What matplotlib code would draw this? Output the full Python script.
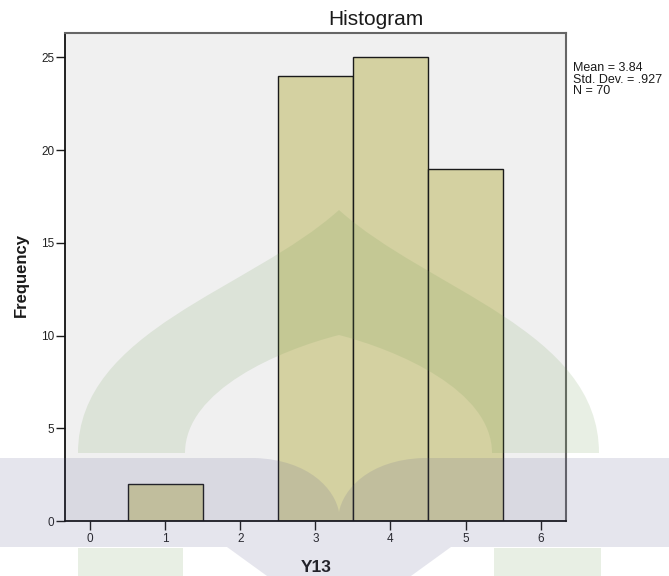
import matplotlib
matplotlib.use("Agg")
import matplotlib.pyplot as plt
from matplotlib.path import Path
from matplotlib.patches import PathPatch, Rectangle

# histogram data (SPSS output, Y13)
bin_centers = [1, 3, 4, 5]
frequencies = [2, 24, 25, 19]
x_ticks = [0, 1, 2, 3, 4, 5, 6]
y_ticks = [0, 5, 10, 15, 20, 25]
stats_lines = ["Mean = 3.84", "Std. Dev. = .927", "N = 70"]

W, H = 669, 576
plt.rcParams["font.family"] = ["Liberation Sans", "DejaVu Sans"]

fig = plt.figure(figsize=(W / 100, H / 100), dpi=100)
fig.patch.set_facecolor("white")

ax = fig.add_axes([65 / W, 1 - 521 / H, 501 / W, 488.5 / H])
ax.set_facecolor("#f0f0f0")
ax.bar(bin_centers, frequencies, width=1.0, color="#d4d1a1",
       edgecolor="#1a1a1a", linewidth=1.0, zorder=2)

ax.set_xlim(-0.333, 6.337)
ax.set_ylim(0, 26.34)
ax.set_xticks(x_ticks)
ax.set_yticks(y_ticks)
ax.tick_params(axis="both", direction="out", length=6.5, width=1.0,
               labelsize=8.5, color="#1a1a1a", labelcolor="#222222")
ax.tick_params(axis="y", pad=1)
ax.tick_params(axis="x", pad=2)

for side in ["left", "bottom"]:
    ax.spines[side].set_color("#111111")
    ax.spines[side].set_linewidth(1.3)
for side in ["top", "right"]:
    ax.spines[side].set_color("#666666")
    ax.spines[side].set_linewidth(1.5)

fig.text(375.5 / W, 1 - 25 / H, "Histogram", fontsize=15, ha="center",
         va="baseline", color="#1a1a1a")
fig.text(21 / W, 1 - 275 / H, "Frequency", fontsize=12, fontweight="bold",
         rotation=90, ha="center", va="center", color="#1a1a1a")
fig.text(316.5 / W, 1 - 567 / H, "Y13", fontsize=12.5, fontweight="bold",
         ha="center", va="center", color="#1a1a1a")

for i, line in enumerate(stats_lines):
    fig.text(573 / W, 1 - (71 + i * 11.7) / H, line, fontsize=9,
             ha="left", va="baseline", color="#1a1a1a")


# background watermark (logo shapes), in figure pixel coordinates
def to_fig(pts):
    return [(x / W, 1 - y / H) for x, y in pts]


C4 = Path.CURVE4
arch_pts = [(78, 453), (78, 330), (250, 290), (339, 210),
            (428, 290), (599, 330), (599, 453),
            (492, 453),
            (492, 390), (397, 350), (339, 335),
            (280, 350), (185, 390), (185, 453),
            (78, 453)]
arch_codes = [Path.MOVETO, C4, C4, C4, C4, C4, C4, Path.LINETO,
              C4, C4, C4, C4, C4, C4, Path.CLOSEPOLY]
green = dict(facecolor=(107 / 255, 153 / 255, 80 / 255), edgecolor="none",
             alpha=0.15, transform=fig.transFigure, zorder=5)
fig.add_artist(PathPatch(Path(to_fig(arch_pts), arch_codes), **green))
for x0, x1 in [(78, 183), (494, 601)]:
    fig.add_artist(Rectangle((x0 / W, 0), (x1 - x0) / W, 28 / H, **green))

band_pts = [(0, 458), (255, 458),
            (310, 460), (335, 490), (339, 512),
            (343, 490), (368, 460), (423, 458),
            (669, 458), (669, 547), (451, 547), (411, 576),
            (267, 576), (227, 547), (0, 547), (0, 458)]
band_codes = [Path.MOVETO, Path.LINETO, C4, C4, C4, C4, C4, C4,
              Path.LINETO, Path.LINETO, Path.LINETO, Path.LINETO,
              Path.LINETO, Path.LINETO, Path.LINETO, Path.CLOSEPOLY]
fig.add_artist(PathPatch(Path(to_fig(band_pts), band_codes),
                         facecolor=(87 / 255, 87 / 255, 140 / 255),
                         edgecolor="none", alpha=0.15,
                         transform=fig.transFigure, zorder=5))

fig.savefig("out.png", dpi=100)
